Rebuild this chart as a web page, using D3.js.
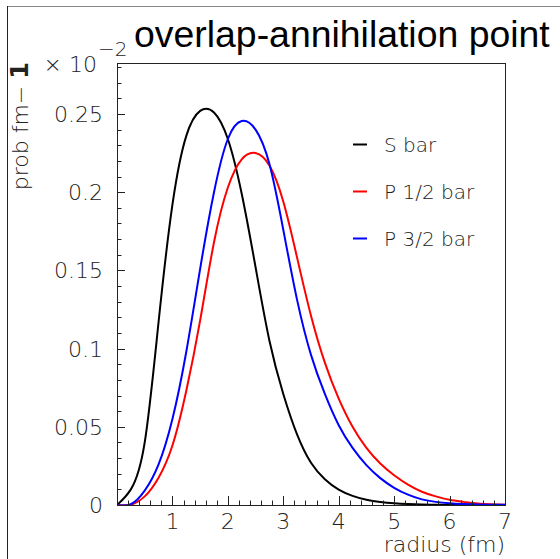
<!DOCTYPE html>
<html>
<head>
<meta charset="utf-8">
<script src="https://cdn.jsdelivr.net/npm/d3@7"></script>
<style>
  body { margin: 0; background: #fff; }
  svg { display: block; }
  .lbl { font-family: "DejaVu Sans", sans-serif; font-weight: 200; fill: #222; }
</style>
</head>
<body>
<svg id="chart" width="560" height="559"></svg>
<script>
// radius grid (fm) and probabilities (units of 1e-2 fm^-1)
const radius = [0, 0.25, 0.5, 0.75, 1, 1.25, 1.5, 1.75, 2, 2.25, 2.5, 2.75, 3, 3.25, 3.5, 3.75, 4, 4.25, 4.5, 4.75, 5, 5.25, 5.5, 5.75, 6, 6.25, 6.5, 6.75, 7];
const sBar   = [0, 0.010, 0.040, 0.117, 0.192, 0.236, 0.252, 0.251, 0.234, 0.199, 0.152, 0.105, 0.071, 0.045, 0.027, 0.0165, 0.0098, 0.0058, 0.0033, 0.0019, 0.0011, 0.0006, 0.0003, 0.0002, 0.0001, 0.0001, 0, 0, 0];
const p12Bar = [0, 0.0002, 0.0055, 0.0175, 0.038, 0.073, 0.118, 0.168, 0.203, 0.221, 0.225, 0.217, 0.194, 0.158, 0.121, 0.091, 0.068, 0.050, 0.0365, 0.0265, 0.019, 0.013, 0.0085, 0.0055, 0.0033, 0.002, 0.0009, 0.0004, 0.0002];
const p32Bar = [0, 0.0005, 0.0092, 0.026, 0.055, 0.098, 0.151, 0.200, 0.234, 0.2455, 0.240, 0.218, 0.176, 0.131, 0.096, 0.071, 0.051, 0.0365, 0.0255, 0.0172, 0.011, 0.0066, 0.0036, 0.002, 0.0011, 0.0006, 0.0003, 0.0002, 0.0001];

const seriesNames  = ['S bar', 'P 1/2 bar', 'P 3/2 bar'];
const seriesColors = ['#000000', '#ff0000', '#0000ff'];
const xTicks = [1, 2, 3, 4, 5, 6, 7];
const yTicks = [0, 0.05, 0.1, 0.15, 0.2, 0.25];
const yTickLabels = ['0', '0.05', '0.1', '0.15', '0.2', '0.25'];

let
  frame = {left: 117, top: 63, right: 505, bottom: 505},
  svg = d3.select('#chart'),
  xScale = d3.scaleLinear().domain([0, 7]).range([frame.left, frame.right]),
  yScale = d3.scaleLinear().domain([0, 0.2826]).range([frame.bottom, frame.top]),
  line = d3.line().curve(d3.curveNatural).x(d => xScale(d[0])).y(d => yScale(d[1])),
  series = [sBar, p12Bar, p32Bar].map(vals => radius.map((r, i) => [r, vals[i]]))
  ;

// canvas border
svg.append('line').attr('x1', 7).attr('x2', 560).attr('y1', 6.5).attr('y2', 6.5).attr('stroke', '#888');
svg.append('line').attr('x1', 7.5).attr('x2', 7.5).attr('y1', 6).attr('y2', 559).attr('stroke', '#222');

svg.append('defs').append('clipPath').attr('id', 'clip')
  .append('rect')
  .attr('x', frame.left).attr('y', frame.top)
  .attr('width', frame.right - frame.left).attr('height', frame.bottom - frame.top);

// curves
svg.append('g').attr('clip-path', 'url(#clip)')
  .selectAll('path')
  .data(series)
  .join('path')
  .attr('d', line)
  .attr('fill', 'none')
  .attr('stroke', (d, i) => seriesColors[i])
  .attr('stroke-width', 2)
  ;

// frame
svg.append('rect')
  .attr('x', frame.left + 0.5).attr('y', frame.top + 0.5)
  .attr('width', frame.right - frame.left).attr('height', frame.bottom - frame.top)
  .attr('fill', 'none').attr('stroke', '#222');

// x axis ticks (inside, pointing up)
const xMinor = d3.range(1, 35).map(k => k / 5);
svg.append('g').selectAll('line')
  .data(xMinor)
  .join('line')
  .attr('x1', d => Math.round(xScale(d)) + 0.5)
  .attr('x2', d => Math.round(xScale(d)) + 0.5)
  .attr('y1', frame.bottom)
  .attr('y2', d => frame.bottom - (Math.abs(d - Math.round(d)) < 1e-6 ? 9 : 4.5))
  .attr('stroke', '#222');

svg.append('g').selectAll('text')
  .data(xTicks)
  .join('text')
  .attr('class', 'lbl')
  .attr('x', d => xScale(d))
  .attr('y', 529)
  .attr('text-anchor', 'middle')
  .attr('font-size', 22)
  .text(d => d);

// y axis ticks (inside, pointing right)
const yMinor = d3.range(1, 29).map(k => k / 100);
svg.append('g').selectAll('line')
  .data(yMinor)
  .join('line')
  .attr('y1', d => Math.round(yScale(d)) + 0.5)
  .attr('y2', d => Math.round(yScale(d)) + 0.5)
  .attr('x1', frame.left)
  .attr('x2', d => frame.left + (Math.round(d * 100) % 5 === 0 ? 8 : 4.5))
  .attr('stroke', '#222');

svg.append('g').selectAll('text')
  .data(yTicks)
  .join('text')
  .attr('class', 'lbl')
  .attr('x', 103)
  .attr('y', d => yScale(d))
  .attr('dy', '0.36em')
  .attr('text-anchor', 'end')
  .attr('font-size', 22)
  .text((d, i) => yTickLabels[i]);

// exponent label
svg.append('text').attr('class', 'lbl')
  .attr('x', 97).attr('y', 72).attr('text-anchor', 'end').attr('font-size', 22)
  .text('\u00d7 10');
svg.append('text').attr('class', 'lbl')
  .attr('x', 98).attr('y', 56).attr('font-size', 20)
  .text('\u22122');

// axis titles
svg.append('text').attr('class', 'lbl')
  .attr('x', 505).attr('y', 552).attr('text-anchor', 'end').attr('font-size', 22)
  .text('radius (fm)');

const yTitle = svg.append('text').attr('class', 'lbl')
  .attr('transform', 'translate(28,62) rotate(-90)')
  .attr('text-anchor', 'end').attr('font-size', 22);
yTitle.append('tspan').text('prob fm\u2212 ');
yTitle.append('tspan').attr('font-size', 24).style('font-weight', 'bold').text('1');

// title
svg.append('text')
  .attr('x', 134).attr('y', 47)
  .attr('font-family', '"Liberation Sans", Arial, sans-serif')
  .attr('font-size', 37.4)
  .attr('fill', '#000')
  .text('overlap-annihilation point');

// legend
const legend = svg.append('g').selectAll('g')
  .data(seriesNames)
  .join('g')
  .attr('transform', (d, i) => `translate(0,${144 + i * 47})`);
legend.append('line')
  .attr('x1', 353).attr('x2', 367).attr('y1', 0.5).attr('y2', 0.5)
  .attr('stroke', (d, i) => seriesColors[i]).attr('stroke-width', 2);
legend.append('text').attr('class', 'lbl')
  .attr('x', 384).attr('y', 0).attr('dy', '0.4em').attr('font-size', 20)
  .text(d => d);
</script>
</body>
</html>
